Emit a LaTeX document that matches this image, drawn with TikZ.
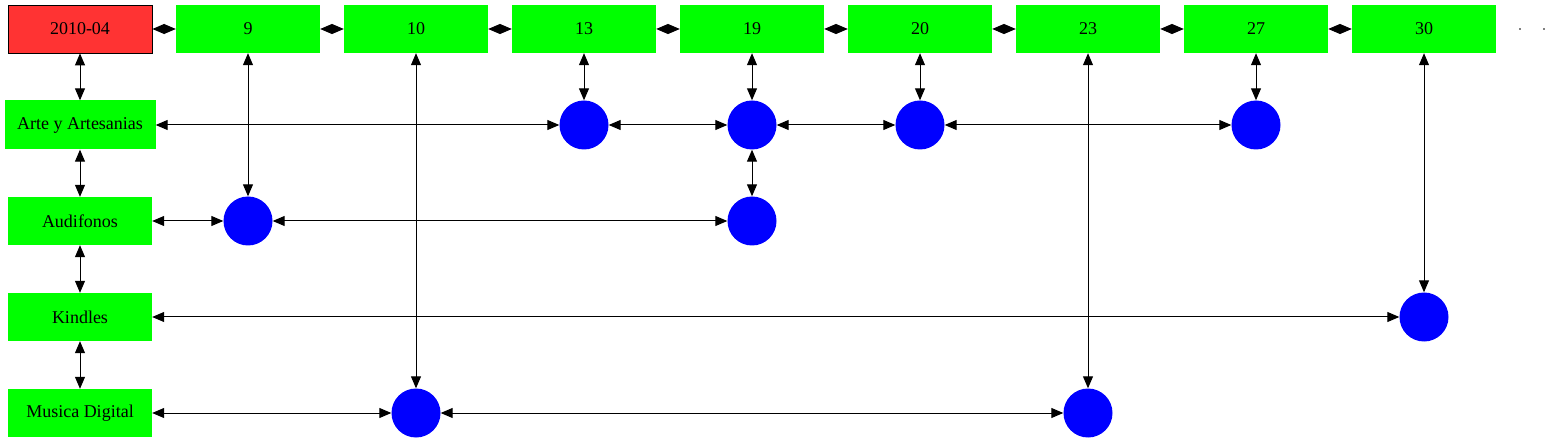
\documentclass[tikz,border=0pt]{standalone}
\usepackage{fontspec}
\setmainfont{Liberation Serif}
\usetikzlibrary{arrows.meta}
\definecolor{gv green}{HTML}{00FF00}
\definecolor{gv red}{HTML}{FF3333}
\definecolor{gv blue}{HTML}{0000FF}
\tikzset{
  box/.style={rectangle, fill=gv green, draw=none, minimum width=144pt, minimum height=48pt, inner sep=0pt, font=\fontsize{18}{21}\selectfont},
  datebox/.style={box, fill=gv red, draw=black, line width=0.8pt},
  dot/.style={circle, fill=gv blue, draw=none, minimum size=49pt, inner sep=0pt},
  link/.style={draw=black, line width=1pt, {Triangle[length=12pt,width=10pt]}-{Triangle[length=12pt,width=10pt]}},
  tinydot/.style={rectangle, fill=gray, draw=none, minimum width=2pt, minimum height=1.5pt, inner sep=0pt}
}
\begin{document}
\begin{tikzpicture}[x=1pt,y=-1pt]
\useasboundingbox (0,0) rectangle (1549,443);
% top row
\node[datebox] (d) at (80,29) {2010-04};
\node[box] (t9) at (248,29) {9};
\node[box] (t10) at (416,29) {10};
\node[box] (t13) at (584,29) {13};
\node[box] (t19) at (752,29) {19};
\node[box] (t20) at (920,29) {20};
\node[box] (t23) at (1088,29) {23};
\node[box] (t27) at (1256,29) {27};
\node[box] (t30) at (1424,29) {30};
\node[tinydot] (e1) at (1520,29) {};
\node[tinydot] (e2) at (1544,29) {};
% category boxes
\node[box, minimum width=151pt, minimum height=49pt] (arte) at (80,125) {Arte y Artesanias};
\node[box] (aud) at (80,221) {Audifonos};
\node[box] (kin) at (80,317) {Kindles};
\node[box] (mus) at (80,413) {Musica Digital};
% circles
\node[dot] (a13) at (584,125) {};
\node[dot] (a19) at (752,125) {};
\node[dot] (a20) at (920,125) {};
\node[dot] (a27) at (1256,125) {};
\node[dot] (u9) at (248,221) {};
\node[dot] (u19) at (752,221) {};
\node[dot] (k30) at (1424,317) {};
\node[dot] (m10) at (416,413) {};
\node[dot] (m23) at (1088,413) {};
% horizontal edges
\draw[link] (arte) -- (a13);
\draw[link] (a13) -- (a19);
\draw[link] (a19) -- (a20);
\draw[link] (a20) -- (a27);
\draw[link] (aud) -- (u9);
\draw[link] (u9) -- (u19);
\draw[link] (kin) -- (k30);
\draw[link] (mus) -- (m10);
\draw[link] (m10) -- (m23);
% vertical edges
\draw[link] (d) -- (arte);
\draw[link] (arte) -- (aud);
\draw[link] (aud) -- (kin);
\draw[link] (kin) -- (mus);
\draw[link] (t9) -- (u9);
\draw[link] (t10) -- (m10);
\draw[link] (t13) -- (a13);
\draw[link] (t19) -- (a19);
\draw[link] (a19) -- (u19);
\draw[link] (t20) -- (a20);
\draw[link] (t23) -- (m23);
\draw[link] (t27) -- (a27);
\draw[link] (t30) -- (k30);
% top row edges
\draw[link] (d) -- (t9);
\draw[link] (t9) -- (t10);
\draw[link] (t10) -- (t13);
\draw[link] (t13) -- (t19);
\draw[link] (t19) -- (t20);
\draw[link] (t20) -- (t23);
\draw[link] (t23) -- (t27);
\draw[link] (t27) -- (t30);
\end{tikzpicture}
\end{document}
